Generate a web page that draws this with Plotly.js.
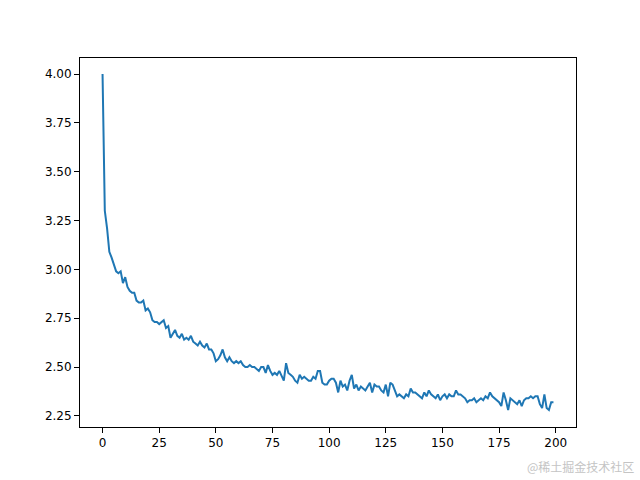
<!DOCTYPE html>
<html>
<head>
<meta charset="utf-8">
<script src="https://cdn.plot.ly/plotly-3.0.1.min.js"></script>
<style>
  html, body { margin: 0; padding: 0; background: #fff; }
  #chart { width: 640px; height: 480px; }
</style>
</head>
<body>
<div id="chart"></div>
<script>
// loss per epoch
const lossValues = [
  4.00, 3.30, 3.21, 3.09, 3.06, 3.02, 2.99, 2.98, 2.99, 2.93,
  2.96, 2.91, 2.89, 2.88, 2.88, 2.84, 2.83, 2.83, 2.84, 2.79,
  2.80, 2.78, 2.74, 2.73, 2.73, 2.72, 2.73, 2.74, 2.70, 2.71,
  2.65, 2.67, 2.69, 2.66, 2.65, 2.67, 2.64, 2.65, 2.64, 2.66,
  2.63, 2.62, 2.61, 2.63, 2.61, 2.60, 2.62, 2.59, 2.59, 2.57,
  2.53, 2.54, 2.56, 2.59, 2.55, 2.53, 2.55, 2.53, 2.52, 2.53,
  2.52, 2.53, 2.51, 2.50, 2.50, 2.51, 2.50, 2.50, 2.49, 2.48,
  2.50, 2.50, 2.47, 2.51, 2.48, 2.46, 2.47, 2.46, 2.48, 2.45,
  2.43, 2.52, 2.47, 2.46, 2.45, 2.43, 2.42, 2.46, 2.44, 2.45,
  2.44, 2.43, 2.43, 2.45, 2.44, 2.48, 2.48, 2.42, 2.41, 2.41,
  2.43, 2.44, 2.44, 2.42, 2.37, 2.43, 2.40, 2.41, 2.38, 2.43,
  2.46, 2.39, 2.41, 2.38, 2.40, 2.39, 2.38, 2.40, 2.42, 2.37,
  2.41, 2.40, 2.40, 2.38, 2.37, 2.41, 2.35, 2.42, 2.41, 2.38,
  2.35, 2.36, 2.35, 2.34, 2.36, 2.35, 2.39, 2.37, 2.37, 2.36,
  2.35, 2.34, 2.37, 2.35, 2.38, 2.36, 2.35, 2.34, 2.36, 2.33,
  2.35, 2.36, 2.34, 2.36, 2.35, 2.35, 2.38, 2.36, 2.36, 2.35,
  2.34, 2.32, 2.33, 2.33, 2.34, 2.32, 2.33, 2.34, 2.33, 2.35,
  2.34, 2.37, 2.35, 2.34, 2.33, 2.32, 2.30, 2.37, 2.33, 2.28,
  2.34, 2.33, 2.32, 2.31, 2.33, 2.30, 2.33, 2.34, 2.34, 2.35,
  2.34, 2.35, 2.35, 2.31, 2.29, 2.36, 2.29, 2.28, 2.32, 2.32
];
const epochs = lossValues.map((_, i) => i);
const xTicks = [0, 25, 50, 75, 100, 125, 150, 175, 200];
const yTicks = [2.25, 2.50, 2.75, 3.00, 3.25, 3.50, 3.75, 4.00];
const watermark = '@稀土掘金技术社区';

const axisStyle = {
  showgrid: false,
  zeroline: false,
  showline: true,
  linecolor: '#000',
  linewidth: 1,
  mirror: true,
  ticks: 'outside',
  ticklen: 5,
  tickwidth: 1,
  tickcolor: '#000',
  tickfont: { family: 'DejaVu Sans', size: 12, color: '#000' }
};

const data = [{
  x: epochs, y: lossValues, type: 'scatter', mode: 'lines',
  line: { color: '#1f77b4', width: 2 }, hoverinfo: 'skip'
}];

const layout = {
  width: 640, height: 480,
  paper_bgcolor: '#fff', plot_bgcolor: '#fff',
  margin: { l: 80, r: 64, t: 58, b: 53 },
  showlegend: false,
  xaxis: { ...axisStyle, range: [-9.95, 208.95], tickvals: xTicks, ticktext: xTicks.map(String) },
  yaxis: { ...axisStyle, range: [2.193, 4.082], tickvals: yTicks, ticktext: yTicks.map(v => v.toFixed(2)) },
  annotations: [{
    text: watermark, xref: 'paper', yref: 'paper', x: 1.12, y: -0.108,
    xanchor: 'right', yanchor: 'middle', showarrow: false,
    font: { family: 'Noto Sans CJK SC', size: 12, color: '#c4c4c4' }
  }]
};

Plotly.newPlot('chart', data, layout, { staticPlot: true });
</script>
</body>
</html>
